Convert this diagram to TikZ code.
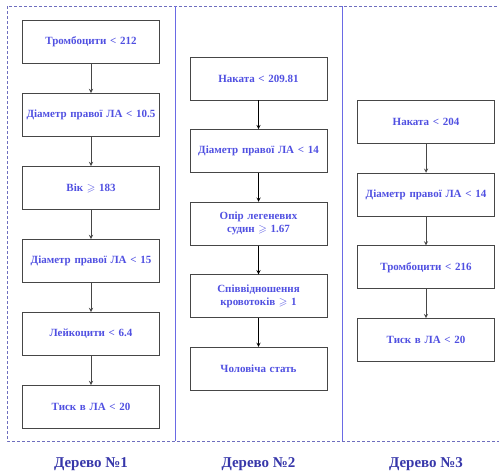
\documentclass[tikz,border=0pt]{standalone}
\usepackage{amssymb, amsmath}
\usepackage{fontspec}
\setmainfont{Liberation Serif}
\usepackage{tikz}
\definecolor{nodeblue}{RGB}{80,80,225}
\definecolor{titleblue}{RGB}{55,55,170}
\definecolor{framegray}{RGB}{110,110,190}
\definecolor{boxgray}{RGB}{70,70,70}
\tikzset{%
	every rule/.style={
		draw=boxgray,
		line width=0.9pt,
		minimum width=137pt,
		minimum height=43pt,
		text width=130pt,
		align=center,
		text=nodeblue,
		font=\fontsize{11}{13}\selectfont\bfseries
	},
	tree title/.style={
		text=titleblue,
		font=\fontsize{15}{17}\selectfont\bfseries
	},
}

\begin{document}
\begin{tikzpicture}[x=1pt, y=-1pt, >=stealth]
		\useasboundingbox (0,0) rectangle (499,474);
		
		% frame and separators
		\draw [framegray, densely dashed, line width=0.6pt] (7,6) rectangle (502,441);
		\draw [nodeblue!85, line width=0.9pt] (175,6) -- (175,441);
		\draw [nodeblue!85, line width=0.9pt] (342,6) -- (342,441);
		
		\foreach \l [count=\y] in {Тромбоцити < 212, Діаметр правої ЛА < 10.5, {Вік $\geqslant$ 183}, Діаметр правої ЛА < 15, Лейкоцити < 6.4, Тиск в ЛА < 20}
		\node [every rule] (tree1-\y) at (91,42+\y*73-73) {\l};
		
		\foreach \l [count=\y] in {Наката < 209.81, Діаметр правої ЛА < 14, {Опір легеневих\\ судин $\geqslant$ 1.67}, {Співвідношення\\ кровотоків $\geqslant$ 1}, Чоловіча стать}
		\node [every rule] (tree2-\y) at (258.5,78.5+\y*72.6-72.6) {\l};
		
		\foreach \l [count=\y] in {Наката < 204, Діаметр правої ЛА < 14, Тромбоцити < 216, Тиск в ЛА < 20}
		\node [every rule] (tree3-\y) at (426,122+\y*72.7-72.7) {\l};
		
		\foreach \i [evaluate=\i as \j using int(\i+1)] in {1,...,5}
		\draw [->, boxgray, line width=0.9pt] (tree1-\i) -- (tree1-\j);
		
		\foreach \i [evaluate=\i as \j using int(\i+1)] in {1,...,4}
		\draw [->, black, line width=0.9pt] (tree2-\i) -- (tree2-\j);
		
		\foreach \i [evaluate=\i as \j using int(\i+1)] in {1,...,3}
		\draw [->, boxgray, line width=0.9pt] (tree3-\i) -- (tree3-\j);
		
		\foreach \l/\x [count=\i] in {№1/91, №2/258.5, №3/426}
		\node [tree title] (title-\i) at (\x,464) {Дерево \l};
		
\end{tikzpicture}
\end{document}
